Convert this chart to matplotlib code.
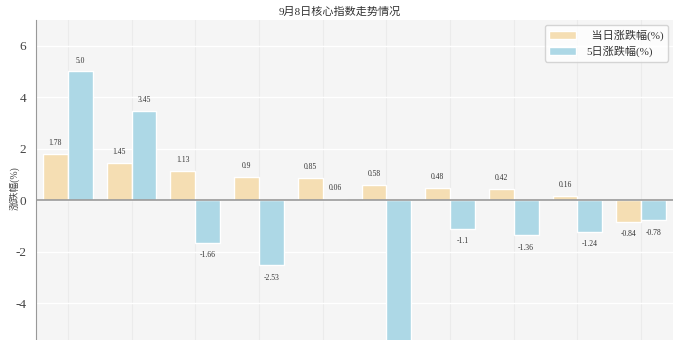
import matplotlib
matplotlib.use("Agg")
import matplotlib.pyplot as plt
import numpy as np

plt.rcParams['font.family'] = ['Liberation Serif', 'Noto Sans CJK SC']
plt.rcParams['axes.unicode_minus'] = False

# data
title = "9月8日核心指数走势情况"
day_label = "当日涨跌幅(%)"
week_label = "5日涨跌幅(%)"
day_chg = [1.78, 1.45, 1.13, 0.9, 0.85, 0.58, 0.48, 0.42, 0.16, -0.84]
week_chg = [5.0, 3.45, -1.66, -2.53, 0.06, -6.5, -1.1, -1.36, -1.24, -0.78]
day_txt = ["1.78", "1.45", "1.13", "0.9", "0.85", "0.58", "0.48", "0.42", "0.16", "-0.84"]
week_txt = ["5.0", "3.45", "-1.66", "-2.53", "0.06", "", "-1.1", "-1.36", "-1.24", "-0.78"]

x = np.arange(len(day_chg))
w = 0.39

fig = plt.figure(figsize=(6.8, 3.4), dpi=100)
ax = fig.add_axes([36/680, 0, (673-36)/680, 320/340])
ax.set_facecolor('#f5f5f5')

b1 = ax.bar(x - w/2, day_chg, w, color='#f5deb3', edgecolor='white', linewidth=1, label="  " + day_label, zorder=3)
b2 = ax.bar(x + w/2, week_chg, w, color='#add8e6', edgecolor='white', linewidth=1, label=week_label, zorder=3)

for bars, txts in ((b1, day_txt), (b2, week_txt)):
    for b, t in zip(bars, txts):
        h = b.get_height()
        if h >= 0:
            ax.annotate(t, (b.get_x() + b.get_width()/2, h), xytext=(0, 5), textcoords='offset points',
                        ha='center', va='bottom', fontsize=5.5, color='#333333')
        else:
            ax.annotate(t, (b.get_x() + b.get_width()/2, h), xytext=(0, -6), textcoords='offset points',
                        ha='center', va='top', fontsize=5.5, color='#333333')

ax.axhline(0, color='#999999', linewidth=1.2, zorder=4)
ax.set_xlim(-0.5, 9.5)
ax.set_ylim(-5.43, 7)
ax.set_yticks([-4, -2, 0, 2, 4, 6])
ax.set_xticks(x)
ax.tick_params(axis='x', length=0, labelbottom=False)
ax.tick_params(axis='y', length=0, labelsize=9.5, colors='#444444', pad=7)
ax.grid(axis='y', color='white', linewidth=1, zorder=1)
ax.grid(axis='x', color='#ebebeb', linewidth=0.8, zorder=1)
for s in ('top', 'right', 'bottom'):
    ax.spines[s].set_visible(False)
ax.spines['left'].set_color('#999999')
ax.set_ylabel("涨跌幅(%)", fontsize=7, color='#444444')
ax.yaxis.set_label_coords(-0.026, 0.475)
fig.text(0.5, 0.966, title, ha='center', va='center', fontsize=8, color='#333333')

leg = ax.legend(loc='upper right', fontsize=8, frameon=True, fancybox=True, handlelength=2.4,
                borderaxespad=0.45, labelspacing=0.45, handletextpad=0.9)
leg.get_frame().set_edgecolor('#cccccc')
leg.get_frame().set_facecolor('white')
for t in leg.get_texts():
    t.set_color('#333333')

fig.savefig('out.png', dpi=100)
